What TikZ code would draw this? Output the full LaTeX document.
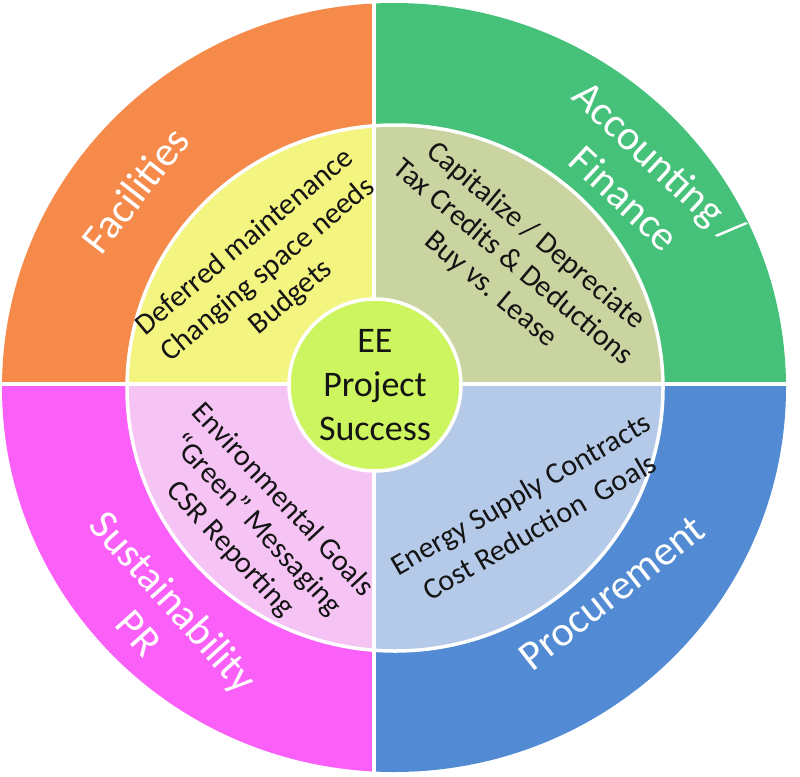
\documentclass[tikz,border=0pt]{standalone}
\usepackage{fontspec}
\setmainfont{Carlito}
\begin{document}
\begin{tikzpicture}[x=1pt,y=-1pt]
\definecolor{cOrange}{RGB}{245,138,75}
\definecolor{cGreen}{RGB}{69,193,122}
\definecolor{cPink}{RGB}{250,96,248}
\definecolor{cBlue}{RGB}{82,139,212}
\definecolor{cYellow}{RGB}{244,244,128}
\definecolor{cOlive}{RGB}{201,212,160}
\definecolor{cLPink}{RGB}{245,196,245}
\definecolor{cLBlue}{RGB}{181,201,232}
\definecolor{cLime}{RGB}{205,245,96}
\definecolor{cInk}{RGB}{20,20,20}
\tikzset{
  outerlabel/.style={text=white, align=center, inner sep=0pt, font=\fontsize{42}{50}\selectfont},
  innerlabel/.style={text=cInk, align=center, inner sep=0pt, font=\fontsize{30}{36}\selectfont},
  hublabel/.style={text=cInk, align=center, inner sep=0pt, font=\fontsize{36}{44}\selectfont},
  gap/.style={white, line width=4pt}
}
\useasboundingbox (0,0) rectangle (800,776);
\fill[white] (0,0) rectangle (800,776);
% outer ring quadrants
\begin{scope}
\clip (394,387.5) ellipse [x radius=392pt, y radius=384.5pt];
\fill[cOrange] (0,0) rectangle (374,384);
\fill[cGreen] (374,0) rectangle (800,384);
\fill[cPink] (0,384) rectangle (374,776);
\fill[cBlue] (374,384) rectangle (800,776);
\end{scope}
% inner quadrants
\begin{scope}
\clip (395,388) ellipse [x radius=268pt, y radius=263pt];
\fill[cYellow] (0,0) rectangle (374,385);
\fill[cOlive] (374,0) rectangle (800,385);
\fill[cLPink] (0,385) rectangle (374,776);
\fill[cLBlue] (374,385) rectangle (800,776);
\end{scope}
\draw[white, line width=3.5pt] (395,388) ellipse [x radius=268pt, y radius=263pt];
\draw[gap] (374,0) -- (374,776);
\draw[gap] (0,384) -- (800,384);
% hub
\node[circle, fill=cLime, draw=white, line width=3.5pt, minimum size=172pt, inner sep=0pt] (hub) at (375,385) {};
\node[hublabel] (hubtext) at (hub.center) {EE\\Project\\Success};
% outer labels
\node[outerlabel, rotate=52] (facilities) at (135,190) {Facilities};
\node[outerlabel, rotate=-43] (accounting) at (642,180) {Accounting /\\Finance};
\node[outerlabel, rotate=-48, font=\fontsize{42}{47}\selectfont] (sustain) at (157,617) {Sustainability\\PR};
\node[outerlabel, rotate=38] (procure) at (612,593) {Procurement};
% inner labels
\node[innerlabel, rotate=40] (facitems) at (268,270) {Deferred maintenance\\Changing space needs\\Budgets};
\node[innerlabel, rotate=-40, font=\fontsize{30}{35}\selectfont] (accitems) at (513,263) {Capitalize / Depreciate\\Tax Credits \& Deductions\\Buy vs. Lease};
\node[innerlabel, rotate=-47] (susitems) at (256,525) {Environmental Goals\\“Green” Messaging\\CSR Reporting};
\node[innerlabel, rotate=30, font=\fontsize{30}{38}\selectfont] (procitems) at (530,510) {Energy Supply Contracts\\Cost Reduction\ \ Goals};
\end{tikzpicture}
\end{document}
